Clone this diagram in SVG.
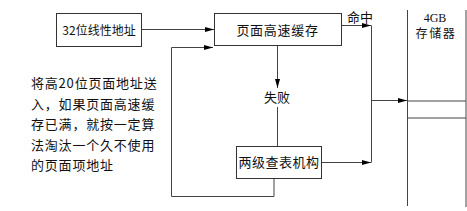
<svg xmlns="http://www.w3.org/2000/svg" width="467" height="211" viewBox="0 0 467 211">
<style>
.box{fill:#fff;stroke:#333;stroke-width:1}
.ln{fill:none;stroke:#444;stroke-width:1}
.t{font-family:"Noto Sans CJK SC","Liberation Sans",sans-serif;font-size:13px;fill:#111}
.c{text-anchor:middle}
</style>
<defs>
<marker id="ah" markerWidth="9" markerHeight="6" refX="9" refY="3" orient="auto" markerUnits="userSpaceOnUse">
<path d="M0,0.5 L9,3 L0,5.5 Z" fill="#000"/>
</marker>
</defs>
<rect width="467" height="211" fill="#fff"/>
<g id="connectors">
<line class="ln" x1="141" y1="29.5" x2="214" y2="29.5" marker-end="url(#ah)"/>
<polyline class="ln" points="274,178 274,196.5 171.5,196.5 171.5,47.5 213,47.5" marker-end="url(#ah)"/>
<line class="ln" x1="277.5" y1="45" x2="277.5" y2="88" marker-end="url(#ah)"/>
<line class="ln" x1="277.5" y1="107" x2="277.5" y2="146"/>
<line class="ln" x1="341" y1="25.5" x2="371" y2="25.5" marker-end="url(#ah)"/>
<line class="ln" x1="321" y1="162.5" x2="371" y2="162.5" marker-end="url(#ah)"/>
<line class="ln" x1="371.5" y1="25.5" x2="371.5" y2="162.5"/>
<line class="ln" x1="371.5" y1="100.5" x2="407" y2="100.5" marker-end="url(#ah)"/>
</g>
<g id="n1">
<rect class="box" x="56.5" y="13.5" width="85" height="33"/>
<text class="t c" x="99" y="35" style="font-size:12px">32位线性地址</text>
</g>
<g id="n2">
<rect class="box" x="214.5" y="13.5" width="127" height="32"/>
<text class="t c" x="277.5" y="35" letter-spacing="0.7">页面高速缓存</text>
</g>
<g id="n3">
<rect class="box" x="236.5" y="146.5" width="85" height="32"/>
<text class="t c" x="279" y="167" letter-spacing="0.5">两级查表机构</text>
</g>
<g id="fail">
<text class="t c" x="277" y="102">失败</text>
</g>
<g id="hit">
<text class="t c" x="360" y="22">命中</text>
</g>
<g id="memory">
<line class="ln" x1="407.5" y1="10" x2="407.5" y2="206"/>
<line class="ln" x1="466" y1="10" x2="466" y2="207"/>
<line class="ln" x1="407.5" y1="101" x2="466" y2="101"/>
<line class="ln" x1="407.5" y1="118" x2="466" y2="118"/>
<text class="t c" x="435" y="21.5" style="font-family:'Liberation Serif',serif;font-size:12px">4GB</text>
<text class="t c" x="436" y="38" style="font-size:12px" letter-spacing="1.6">存储器</text>
</g>
<g id="note">
<text class="t" x="31" y="88" letter-spacing="0.8">将高20位页面地址送</text>
<text class="t" x="31" y="108.5" letter-spacing="0.8">入，如果页面高速缓</text>
<text class="t" x="31" y="129" letter-spacing="0.8">存已满，就按一定算</text>
<text class="t" x="31" y="149.5" letter-spacing="0.8">法淘汰一个久不使用</text>
<text class="t" x="31" y="170" letter-spacing="0.8">的页面项地址</text>
</g>
</svg>
